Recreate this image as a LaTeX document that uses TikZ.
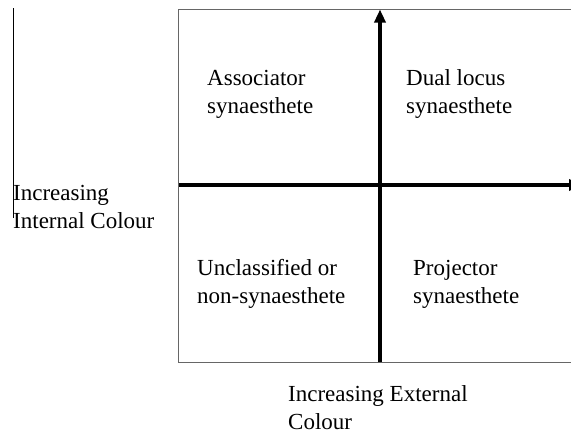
\documentclass[tikz,border=0pt]{standalone}
\usepackage{fontspec}
\setmainfont{Liberation Serif}
\usetikzlibrary{arrows.meta}
\begin{document}
\begin{tikzpicture}[x=1pt,y=-1pt,
  lbl/.style={anchor=base west,inner sep=0pt,align=left,font=\fontsize{23}{28}\selectfont},
  axis/.style={line width=3.2pt,-{Triangle[length=13pt,width=11pt]}},
  frame/.style={draw=black!60,line width=1pt}]
\useasboundingbox (0,0) rectangle (571,434);
\clip (0,0) rectangle (571,434);
\draw[frame] (600,9) -- (178.5,9) -- (178.5,362) -- (600,362);
\coordinate (hs) at (179,185);
\coordinate (he) at (582,185);
\coordinate (vs) at (380,362);
\coordinate (ve) at (380,9.5);
\draw[axis] (hs) -- (he);
\draw[axis] (vs) -- (ve);
\coordinate (lt) at (13,8);
\coordinate (lb) at (13,218);
\draw[line width=1pt] (lt) -- (lb);
\node[lbl] (assoc) at (207,113) {Associator\\synaesthete};
\node[lbl] (dual) at (406,113) {Dual locus\\synaesthete};
\node[lbl] (uncl) at (197,303) {Unclassified or\\non-synaesthete};
\node[lbl] (proj) at (413,303) {Projector\\synaesthete};
\node[lbl] (intc) at (13,228) {Increasing\\Internal Colour};
\node[lbl] (extc) at (288,429) {Increasing External\\Colour};
\end{tikzpicture}
\end{document}
